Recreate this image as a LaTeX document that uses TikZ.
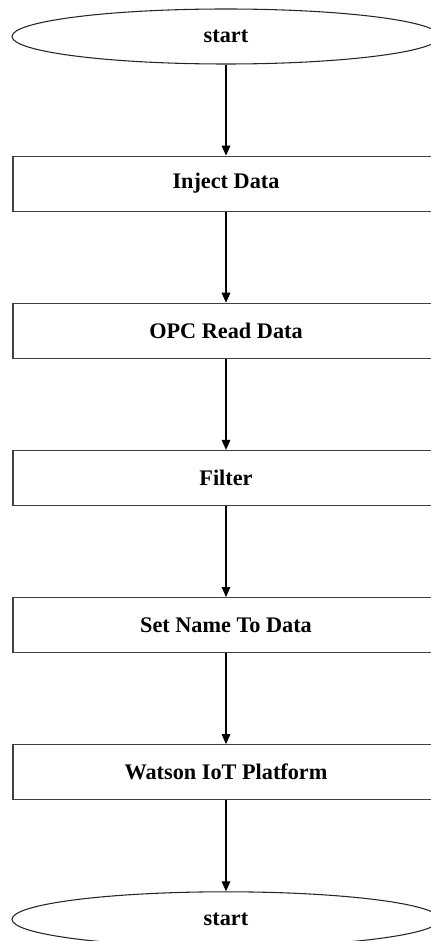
\documentclass[tikz,border=0pt]{standalone}
\usepackage{fontspec}
\setmainfont{Liberation Serif}
\usetikzlibrary{shapes,arrows.meta,positioning}

\begin{document}
\begin{tikzpicture}[
    x=0.75pt, y=-0.75pt,
    node distance=68.3pt,
    terminal/.style={ellipse, draw=black!85, line width=0.8pt, minimum width=321pt,
                     minimum height=41.25pt, inner sep=0pt, font=\fontsize{16.7}{20}\selectfont\bfseries},
    process/.style={rectangle, draw=black!75, line width=0.8pt, minimum width=319.5pt,
                    minimum height=41.25pt, inner sep=0pt, font=\fontsize{16.7}{20}\selectfont\bfseries},
    arrow/.style={-{Triangle[length=7.5pt,width=6.5pt]}, line width=0.8pt}
]
\useasboundingbox (0,0) rectangle (430,941);

\node[terminal] (start) at (226,36.5) {start};
\node[process, below=of start] (inject) {Inject Data};
\node[process, below=of inject] (opcread) {OPC Read Data};
\node[process, below=of opcread] (filter) {Filter};
\node[process, below=of filter] (setname) {Set Name To Data};
\node[process, below=of setname] (watson) {Watson IoT Platform};
\node[terminal, below=of watson] (stop) {start};

\draw[arrow] (start) -- (inject);
\draw[arrow] (inject) -- (opcread);
\draw[arrow] (opcread) -- (filter);
\draw[arrow] (filter) -- (setname);
\draw[arrow] (setname) -- (watson);
\draw[arrow] (watson) -- (stop);
\end{tikzpicture}
\end{document}
